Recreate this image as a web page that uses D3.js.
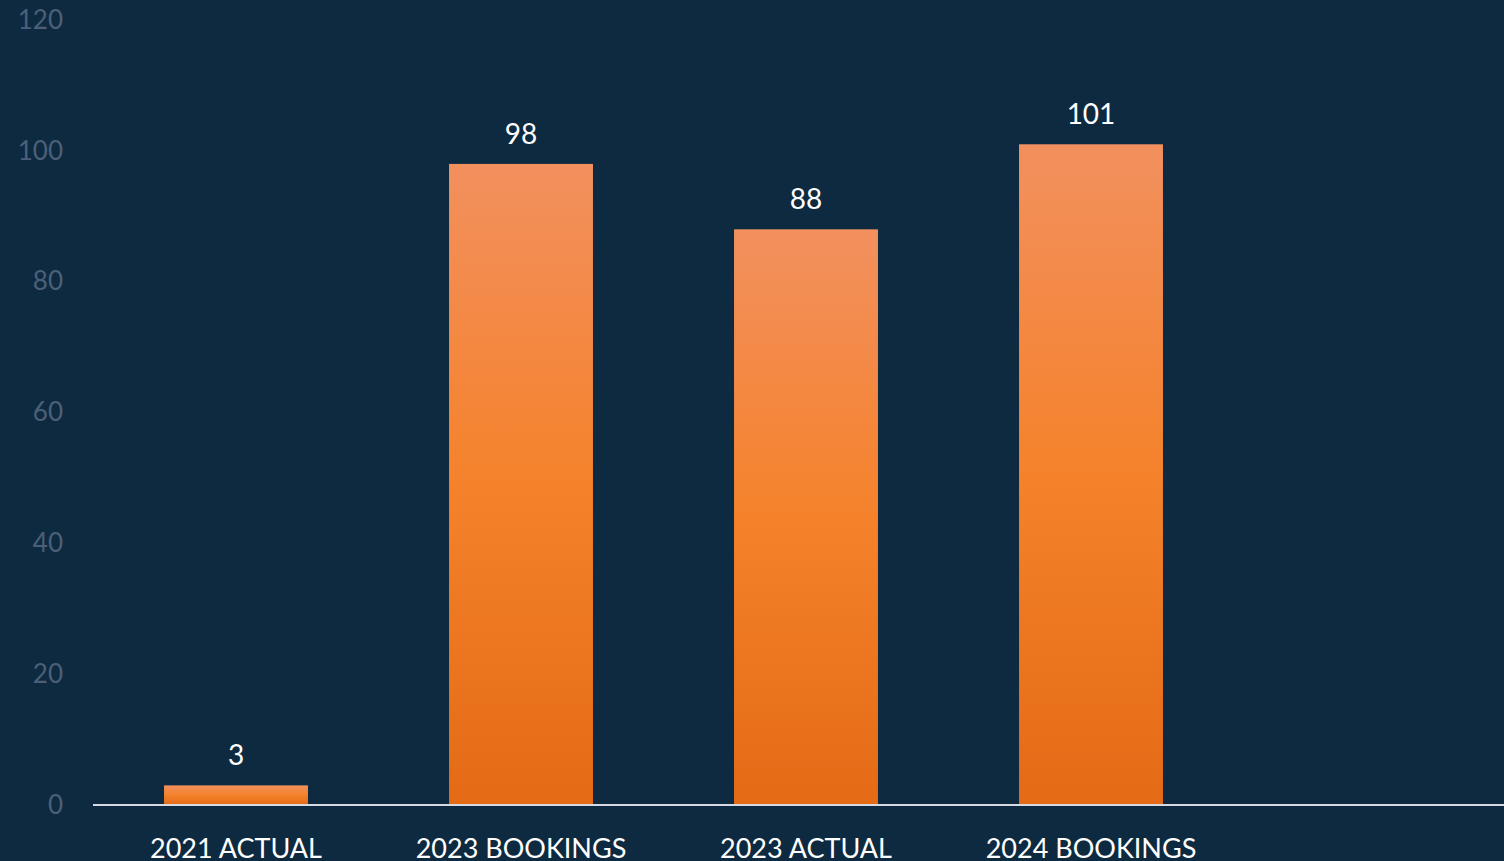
<!DOCTYPE html>
<html lang="en">
<head>
    <meta charset="UTF-8">
    <title>Bookings vs Actual</title>
    <script src="https://d3js.org/d3.v7.min.js"></script>
    <style>
        html, body {
            margin: 0;
            padding: 0;
            background: #0e2a40;
            overflow: hidden;
        }
        svg {
            display: block;
            font-family: Lato, "Open Sans", sans-serif;
        }
    </style>
</head>
<body>
<script>
    // chart data
    var categories = ["2021 ACTUAL", "2023 BOOKINGS", "2023 ACTUAL", "2024 BOOKINGS", ""];
    var values = [3, 98, 88, 101, null];
    var yTicks = [0, 20, 40, 60, 80, 100, 120];

    var w = 1504;
    var h = 861;

    var data = categories.map(function(c, i) {
        return {name: c, value: values[i]};
    });

    var svg = d3.select("body")
        .append("svg")
        .attr("width", w)
        .attr("height", h);

    svg.append("rect")
        .attr("width", w)
        .attr("height", h)
        .attr("fill", "#0e2a40");

    var grad = svg.append("defs")
        .append("linearGradient")
        .attr("id", "barGrad")
        .attr("x1", 0).attr("y1", 0)
        .attr("x2", 0).attr("y2", 1);
    grad.append("stop").attr("offset", "0%").attr("stop-color", "#f2905e");
    grad.append("stop").attr("offset", "50%").attr("stop-color", "#f5822b");
    grad.append("stop").attr("offset", "100%").attr("stop-color", "#e46a16");

    var x = d3.scaleBand()
        .domain(categories)
        .range([93.5, 1518.5])
        .paddingInner(0.495)
        .paddingOuter(0.2475);

    var y = d3.scaleLinear()
        .domain([0, 120])
        .range([805, 20]);

    // y axis labels only
    var yAxis = d3.axisLeft(y)
        .tickValues(yTicks)
        .tickSize(0)
        .tickPadding(30);

    var gy = svg.append("g")
        .attr("transform", "translate(93,0)")
        .call(yAxis);
    gy.select(".domain").remove();
    gy.selectAll("text")
        .attr("fill", "#4b6078")
        .style("font-size", "26px")
        .style("font-family", "Lato, sans-serif");

    // bars
    svg.selectAll("rect.bar")
        .data(data.filter(function(d) { return d.value != null; }))
        .enter()
        .append("rect")
        .attr("class", "bar")
        .attr("x", function(d) { return x(d.name); })
        .attr("y", function(d) { return y(d.value); })
        .attr("width", x.bandwidth())
        .attr("height", function(d) { return y(0) - y(d.value); })
        .attr("fill", "url(#barGrad)");

    // value labels
    svg.selectAll("text.val")
        .data(data.filter(function(d) { return d.value != null; }))
        .enter()
        .append("text")
        .attr("class", "val")
        .attr("x", function(d) { return x(d.name) + x.bandwidth() / 2; })
        .attr("y", function(d) { return y(d.value) - 20; })
        .attr("text-anchor", "middle")
        .attr("fill", "#ffffff")
        .style("font-size", "28px")
        .text(function(d) { return d.value; });

    // baseline
    svg.append("line")
        .attr("x1", 93)
        .attr("x2", w)
        .attr("y1", y(0))
        .attr("y2", y(0))
        .attr("stroke", "#d6dbe3")
        .attr("stroke-width", 2);

    // category labels (cut at the bottom edge, as in the original)
    var xAxis = d3.axisBottom(x)
        .tickSize(0)
        .tickPadding(0);

    var gx = svg.append("g")
        .call(xAxis);
    gx.select(".domain").remove();
    gx.selectAll("text")
        .attr("y", 858)
        .attr("dy", null)
        .attr("fill", "#ffffff")
        .style("font-size", "27px")
        .style("font-family", "Lato, sans-serif");
</script>
</body>
</html>
